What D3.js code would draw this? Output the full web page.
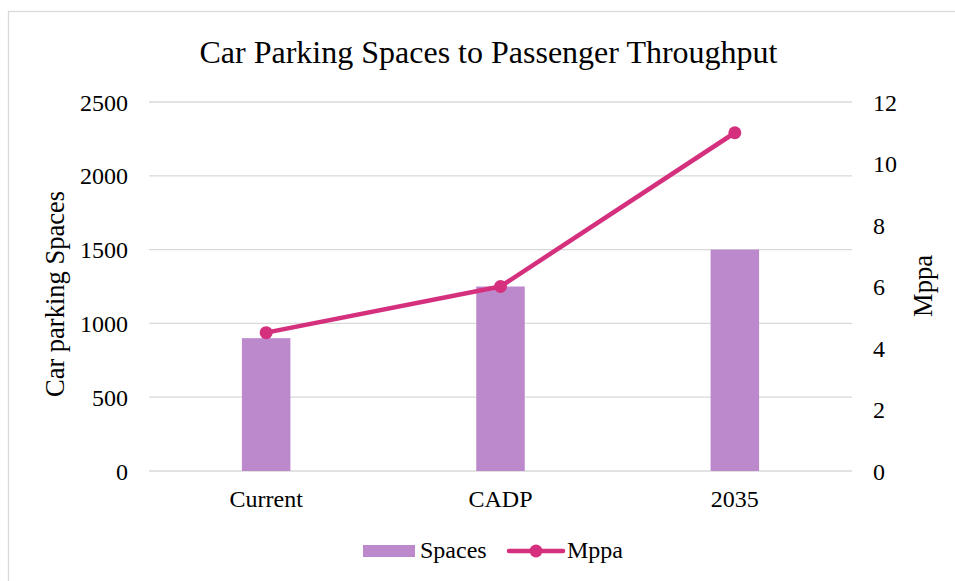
<!DOCTYPE html>
<html>
<head>
<meta charset="utf-8">
<script src="https://cdn.jsdelivr.net/npm/d3@7/dist/d3.min.js"></script>
<style>
  html, body { margin: 0; padding: 0; background: #fff; }
  svg { display: block; }
  text { font-family: "Liberation Serif", "Times New Roman", serif; fill: #000; }
</style>
</head>
<body>
<svg id="chart" width="955" height="581"></svg>
<script>
// Chart data
const categories = ["Current", "CADP", "2035"];
const spaces = [900, 1250, 1500];
const mppa = [4.5, 6, 11];
const leftTicks = [0, 500, 1000, 1500, 2000, 2500];
const rightTicks = [0, 2, 4, 6, 8, 10, 12];

const barColor = "#bd89cd";
const lineColor = "#d5307d";
const gridColor = "#d9d9d9";
const serif = "Liberation Serif, Times New Roman, serif";

const svg = d3.select("#chart");
const plot = { left: 149, right: 852, top: 102, bottom: 471 };

// Outer chart frame
svg.append("rect")
  .attr("x", 8.5).attr("y", 11.5)
  .attr("width", 960).attr("height", 600)
  .attr("fill", "#fff")
  .attr("stroke", gridColor).attr("stroke-width", 1.3);

const x = d3.scaleBand().domain(categories).range([plot.left, plot.right]);
const yL = d3.scaleLinear().domain([0, 2500]).range([plot.bottom, plot.top]);
const yR = d3.scaleLinear().domain([0, 12]).range([plot.bottom, plot.top]);
const barW = x.step() * 0.207;

// Horizontal gridlines
svg.append("g").selectAll("line").data(leftTicks).join("line")
  .attr("x1", plot.left).attr("x2", plot.right)
  .attr("y1", d => yL(d)).attr("y2", d => yL(d))
  .attr("stroke", gridColor).attr("stroke-width", 1.3);

function styleAxis(g) {
  g.attr("font-family", serif).attr("font-size", 24);
  g.select(".domain").remove();
  g.selectAll("text").attr("fill", "#000");
}

// Left axis labels
const leftAxis = d3.axisLeft(yL).tickValues(leftTicks).tickFormat(d3.format("d"))
  .tickSize(0).tickPadding(21);
const gL = svg.append("g").attr("transform", `translate(${plot.left},0)`).call(leftAxis);
styleAxis(gL);
gL.selectAll("text").attr("dy", "0.34em");

// Right axis labels
const rightAxis = d3.axisRight(yR).tickValues(rightTicks).tickFormat(d3.format("d"))
  .tickSize(0).tickPadding(21);
const gR = svg.append("g").attr("transform", `translate(${plot.right},0)`).call(rightAxis);
styleAxis(gR);
gR.selectAll("text").attr("dy", "0.34em");

// Category labels
const bottomAxis = d3.axisBottom(x).tickSize(0).tickPadding(0);
const gB = svg.append("g").attr("transform", `translate(0,${plot.bottom})`).call(bottomAxis);
styleAxis(gB);
gB.selectAll("text").attr("dy", null).attr("y", 36);

// Bars: parking spaces
svg.append("g").selectAll("rect").data(categories).join("rect")
  .attr("x", d => x(d) + x.bandwidth() / 2 - barW / 2)
  .attr("width", barW)
  .attr("y", (d, i) => yL(spaces[i]))
  .attr("height", (d, i) => yL(0) - yL(spaces[i]))
  .attr("fill", barColor);

// Line: passenger throughput
const cx = d => x(d) + x.bandwidth() / 2;
svg.append("path")
  .datum(categories)
  .attr("fill", "none")
  .attr("stroke", lineColor).attr("stroke-width", 4.5)
  .attr("stroke-linejoin", "round")
  .attr("d", d3.line().x(d => cx(d)).y((d, i) => yR(mppa[i])));
svg.append("g").selectAll("circle").data(categories).join("circle")
  .attr("cx", d => cx(d)).attr("cy", (d, i) => yR(mppa[i]))
  .attr("r", 6.5).attr("fill", lineColor);

// Title
svg.append("text")
  .attr("x", 488.5).attr("y", 63)
  .attr("text-anchor", "middle")
  .style("font-size", "32px")
  .text("Car Parking Spaces to Passenger Throughput");

// Axis titles
svg.append("text")
  .attr("transform", "translate(64,294) rotate(-90)")
  .attr("text-anchor", "middle")
  .style("font-size", "26.5px")
  .text("Car parking Spaces");
svg.append("text")
  .attr("transform", "translate(932,286) rotate(-90)")
  .attr("text-anchor", "middle")
  .style("font-size", "26.5px")
  .text("Mppa");

// Legend
const lg = svg.append("g");
lg.append("rect").attr("x", 363).attr("y", 545).attr("width", 52).attr("height", 12).attr("fill", barColor);
lg.append("text").attr("x", 420).attr("y", 558).style("font-size", "24px").text("Spaces");
lg.append("line").attr("x1", 509).attr("x2", 563).attr("y1", 551).attr("y2", 551)
  .attr("stroke", lineColor).attr("stroke-width", 4.5).attr("stroke-linecap", "round");
lg.append("circle").attr("cx", 536).attr("cy", 551).attr("r", 6.5).attr("fill", lineColor);
lg.append("text").attr("x", 567).attr("y", 558).style("font-size", "24px").text("Mppa");
</script>
</body>
</html>
